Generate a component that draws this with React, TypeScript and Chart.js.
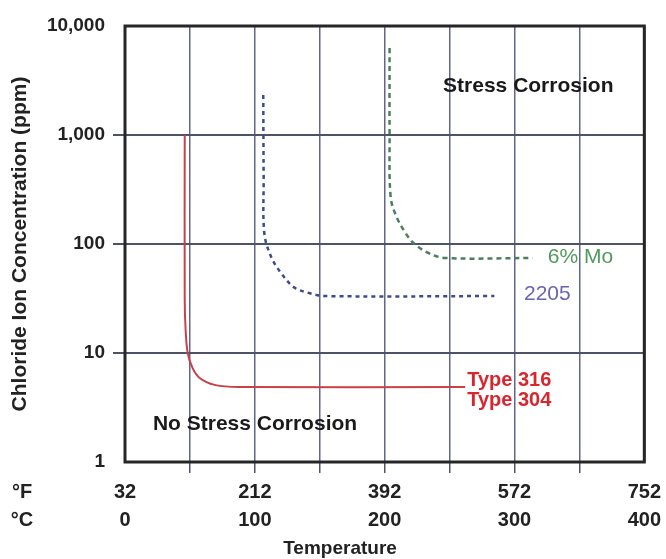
import React, { useEffect, useRef } from 'react';
import { Chart, registerables } from 'chart.js';

Chart.register(...registerables);

// Axis ticks
const tempC = [0, 100, 200, 300, 400];
const tempF = [32, 212, 392, 572, 752];
const yTicks = [1, 10, 100, 1000, 10000];
const yTickLabels = ['1', '10', '100', '1,000', '10,000'];

// Series (x = temperature °C, y = chloride ppm)
const type316X = [46, 46, 46.7, 48.3, 52, 57.5, 69, 88, 262];
const type316Y = [1000, 30.6, 16.3, 10, 7.3, 5.9, 5.1, 4.87, 4.87];
const d2205X = [106.5, 106.8, 107.3, 112.6, 120.3, 130.3, 141.8, 154.8, 284.5];
const d2205Y = [2330, 400, 126, 76, 54, 40, 35.5, 33.3, 33.3];
const mo6X = [203.8, 203.8, 204.6, 209.2, 216.1, 222.2, 233.7, 246.7, 314];
const mo6Y = [6280, 1000, 270, 177, 126, 102, 82.7, 74.4, 74.4];

// Text notes in data coordinates
const noteTexts = ['Stress Corrosion', 'No Stress Corrosion', '6% Mo', '2205', 'Type 316', 'Type 304'];
const noteX = [245, 21.5, 325.7, 307.3, 263.6, 263.6];
const noteY = [2818, 2.2, 76, 34.8, 5.65, 3.7];
const noteColors = ['#1a1a1a', '#1a1a1a', '#4f9a5c', '#6a62b2', '#d8262f', '#d8262f'];
const noteWeights = ['bold', 'bold', 'normal', 'normal', 'bold', 'bold'];
const noteSizes = [21, 21, 21, 21, 20, 20];

const SANS = '"Liberation Sans", Arial, sans-serif';

const pts = (xs: number[], ys: number[]) => xs.map((x, i) => ({ x, y: ys[i] }));

const decorPlugin = {
  id: 'decor',
  afterDraw(chart: any) {
    const { ctx, chartArea: a, scales } = chart;
    ctx.save();
    // frame
    ctx.strokeStyle = '#262626';
    ctx.lineWidth = 3;
    ctx.strokeRect(a.left, a.top, a.right - a.left, a.bottom - a.top);

    // notes
    ctx.textBaseline = 'middle';
    ctx.textAlign = 'left';
    noteTexts.forEach((t, i) => {
      ctx.fillStyle = noteColors[i];
      ctx.font = `${noteWeights[i]} ${noteSizes[i]}px ${SANS}`;
      ctx.fillText(t, scales.x.getPixelForValue(noteX[i]), scales.y.getPixelForValue(noteY[i]));
    });

    // unit labels
    ctx.fillStyle = '#222';
    ctx.font = `bold 20px ${SANS}`;
    ctx.textAlign = 'center';
    ctx.fillText('°F', 22, a.bottom + 30);
    ctx.fillText('°C', 22, a.bottom + 58);

    // x title
    ctx.font = `bold 19px ${SANS}`;
    ctx.fillText('Temperature', a.left + 215, a.bottom + 87);

    // y title
    ctx.translate(20, (a.top + a.bottom) / 2);
    ctx.rotate(-Math.PI / 2);
    ctx.font = `bold 21px ${SANS}`;
    ctx.fillText('Chloride Ion Concentration (ppm)', 0, 0);
    ctx.restore();
  },
};

export default function App() {
  const ref = useRef<HTMLCanvasElement | null>(null);

  useEffect(() => {
    document.body.style.margin = '0';
    if (!ref.current) return;
    const lineBase = { pointRadius: 0, fill: false, tension: 0.35 };
    const chart = new Chart(ref.current, {
      type: 'line',
      data: {
        datasets: [
          {
            ...lineBase,
            label: 'Type 316 / 304',
            data: pts(type316X, type316Y),
            borderColor: '#c9404a',
            borderWidth: 2,
          },
          {
            ...lineBase,
            label: '2205',
            data: pts(d2205X, d2205Y),
            borderColor: '#3c4a8e',
            borderWidth: 2.5,
            borderDash: [4, 4],
          },
          {
            ...lineBase,
            label: '6% Mo',
            data: pts(mo6X, mo6Y),
            borderColor: '#4d7d5e',
            borderWidth: 2.5,
            borderDash: [5, 4],
          },
        ],
      },
      options: {
        animation: false,
        responsive: false,
        layout: { padding: { top: 26, right: 19, left: 0, bottom: 0 } },
        plugins: { legend: { display: false }, tooltip: { enabled: false } },
        scales: {
          x: {
            type: 'linear',
            min: 0,
            max: 400,
            afterFit: (s: any) => { s.height = 97; },
            ticks: {
              stepSize: 50,
              padding: 5,
              color: '#222',
              maxRotation: 0,
              autoSkip: false,
              font: { family: SANS, size: 20, weight: 'bold', lineHeight: 28 / 20 },
              callback: (v: any) => {
                const i = tempC.indexOf(Number(v));
                return i >= 0 ? [String(tempF[i]), String(tempC[i])] : '';
              },
            },
            grid: {
              color: '#62678a',
              lineWidth: 1.5,
              tickLength: 11,
              tickColor: (c: any) => (c.tick && (c.tick.value === 0 || c.tick.value === 400) ? 'rgba(0,0,0,0)' : '#50546c'),
            },
            border: { display: false },
          },
          y: {
            type: 'logarithmic',
            min: 1,
            max: 10000,
            afterFit: (s: any) => { s.width = 125; },
            afterBuildTicks: (s: any) => { s.ticks = yTicks.map((v) => ({ value: v })); },
            ticks: {
              padding: 8,
              color: '#222',
              autoSkip: false,
              font: { family: SANS, size: 19, weight: 'bold' },
              callback: (v: any) => {
                const i = yTicks.indexOf(Number(v));
                return i >= 0 ? yTickLabels[i] : '';
              },
            },
            grid: {
              color: '#4e5266',
              lineWidth: 2,
              tickLength: 12,
              tickColor: (c: any) => (c.tick && (c.tick.value === 1 || c.tick.value === 10000) ? 'rgba(0,0,0,0)' : '#4e5266'),
            },
            border: { display: false },
          },
        },
      },
      plugins: [decorPlugin],
    } as any);
    return () => chart.destroy();
  }, []);

  return (
    <div style={{ width: 666, height: 559 }}>
      <canvas ref={ref} width={666} height={559} />
    </div>
  );
}
